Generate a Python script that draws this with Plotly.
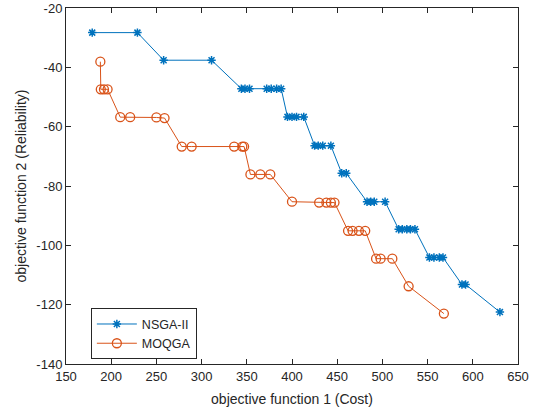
import plotly.graph_objects as go

nsga_x = [179, 229, 258, 311, 344, 348, 353, 372, 377, 383, 388, 395, 400, 405, 413,
          425, 429, 434, 443, 455, 460, 483, 487, 491, 503, 518, 522, 527, 531, 536,
          552, 557, 563, 567, 588, 592, 630]
nsga_y = [-28.3, -28.3, -37.6, -37.6, -47.2, -47.2, -47.2, -47.2, -47.2, -47.2, -47.2,
          -56.7, -56.7, -56.7, -56.7, -66.4, -66.4, -66.4, -66.4, -75.7, -75.7,
          -85.3, -85.3, -85.3, -85.3, -94.6, -94.6, -94.6, -94.6, -94.6,
          -104.1, -104.1, -104.1, -104.1, -113.2, -113.2, -122.5]

moqga_x = [188, 188.5, 192, 196, 210, 221, 250, 259, 278, 289, 336, 345, 347, 354, 365, 376,
           400, 430, 438, 443, 447, 462, 467, 474, 481, 493, 498, 511, 529, 568]
moqga_y = [-38.1, -47.4, -47.4, -47.4, -56.8, -56.8, -56.9, -57.1, -66.7, -66.7, -66.7, -66.7,
           -66.7, -76.1, -76.1, -76.1, -85.3, -85.6, -85.6, -85.6, -85.6, -95.1, -95.1, -95.1,
           -95.1, -104.5, -104.5, -104.5, -113.8, -123.0]

x_ticks = [150, 200, 250, 300, 350, 400, 450, 500, 550, 600, 650]
y_ticks = [-140, -120, -100, -80, -60, -40, -20]
y_tick_labels = ["-140", "-120", "-100", "-80", "-60", "-40", "-20"]

blue = "#0072BD"
orange = "#D95319"

fig = go.Figure()
fig.add_trace(go.Scatter(
    x=nsga_x, y=nsga_y, mode="lines+markers", name="NSGA-II",
    line=dict(color=blue, width=1),
    marker=dict(symbol="asterisk-open", size=7, color=blue, line=dict(color=blue, width=1.5)),
))
fig.add_trace(go.Scatter(
    x=moqga_x, y=moqga_y, mode="lines+markers", name="MOQGA",
    line=dict(color=orange, width=1),
    marker=dict(symbol="circle-open", size=9, color=orange, line=dict(color=orange, width=1.3)),
))

axis_common = dict(
    showgrid=False, zeroline=False, showline=True, linecolor="#262626", linewidth=1,
    mirror="ticks", ticks="inside", ticklen=5, tickcolor="#262626", automargin=False,
    tickfont=dict(family="Liberation Sans, Arial, sans-serif", size=13, color="#262626"),
)

fig.update_layout(
    width=534, height=414,
    margin=dict(l=66, r=16, t=8, b=50),
    paper_bgcolor="white", plot_bgcolor="white",
    font=dict(family="Liberation Sans, Arial, sans-serif", size=13, color="#262626"),
    xaxis=dict(range=[150, 650], tickvals=x_ticks,
               title=dict(text="objective function 1 (Cost)", font=dict(size=14), standoff=11),
               **axis_common),
    yaxis=dict(range=[-140, -20], tickvals=y_ticks, ticktext=y_tick_labels,
               title=dict(text="objective function 2 (Reliability)", font=dict(size=14), standoff=6),
               **axis_common),
    legend=dict(x=0.055, y=0.013, xanchor="left", yanchor="bottom",
                bordercolor="#262626", borderwidth=1, bgcolor="white",
                font=dict(size=12.5), itemwidth=40, tracegroupgap=0),
    showlegend=True,
)

fig.write_html("out.html", config={"displayModeBar": False},
               post_script="document.body.style.margin='0';document.body.style.overflow='hidden';")
